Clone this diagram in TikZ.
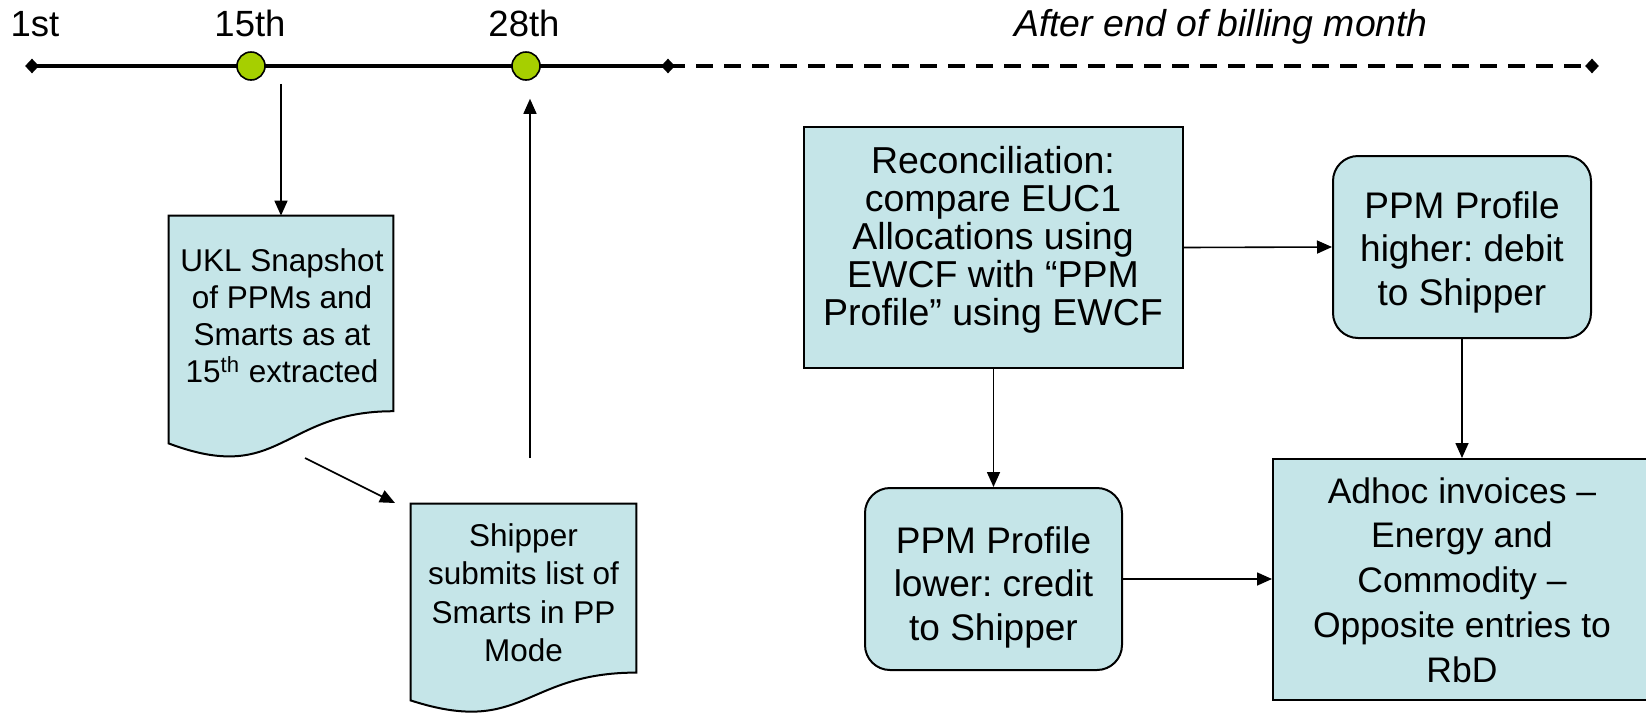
\documentclass[tikz,border=0pt]{standalone}
\usepackage{fontspec}
\setmainfont{Liberation Sans}
\usetikzlibrary{arrows.meta,shapes.geometric,calc}
\definecolor{boxfill}{RGB}{197,229,232}
\definecolor{dotgreen}{RGB}{166,207,0}
\frenchspacing
\newcommand\docoutline[1]{%
  \draw[docline] (#1.north west) -- (#1.north east)
    -- ($(#1.north east)!0.8587!(#1.south east)$)
    .. controls ($(#1.north)!0.8587!(#1.south)$) and ($(#1.north)!1.1858!(#1.south)$) .. (#1.south west)
    -- cycle;}
\newcommand\myrecfont{\fontsize{18.75pt}{19pt}\selectfont\lineskiplimit=-10pt\relax}
\begin{document}
\begin{tikzpicture}[x=0.5pt,y=-0.5pt,
  arr/.style={line width=0.8pt,-{Triangle[length=7.5pt,width=6.5pt]}},
  tl/.style={line width=1.75pt},
  dia/.style={diamond,fill=black,inner sep=0pt,minimum width=7pt,minimum height=7.5pt},
  dot/.style={circle,draw=black,line width=0.8pt,fill=dotgreen,inner sep=0pt,minimum size=14pt},
  sqbox/.style={draw=black,line width=1pt,fill=boxfill,inner sep=0pt},
  rbox/.style={sqbox,rounded corners=12.5pt},
  docarea/.style={inner sep=0pt},
  docline/.style={draw=black,line width=1pt,fill=boxfill},
  lbl/.style={font=\fontsize{18.25pt}{21pt}\selectfont,anchor=base,inner sep=0pt},
  doctxt/.style={font=\fontsize{15.75pt}{18.5pt}\selectfont,align=center,inner sep=0pt},
  doctxtb/.style={font=\fontsize{15.75pt}{19.25pt}\selectfont,align=center,inner sep=0pt},
  rectxt/.style={font=\myrecfont,align=center,inner sep=0pt},
  ppmtxt/.style={font=\fontsize{18.5pt}{21.75pt}\selectfont,align=center,inner sep=0pt},
  adtxt/.style={font=\fontsize{17.75pt}{22.35pt}\selectfont,align=center,inner sep=0pt}
]
\clip (0,0) rectangle (1646,713);
\fill[white] (0,0) rectangle (1646,713);

% timeline labels
\node[lbl] (l1) at (35,36) {1st};
\node[lbl] (l15) at (250,36) {15th};
\node[lbl] (l28) at (524,36) {28th};
\node[lbl,font=\fontsize{18.7pt}{21pt}\selectfont\itshape] (lafter) at (1221,36) {After end of billing month};

% timeline
\node[dia] (d1) at (32,66) {};
\node[dia] (d2) at (668,66) {};
\node[dia] (d3) at (1592,66) {};
\draw[tl] (d1.center) -- (d2.center);
\draw[tl,dash pattern=on 8.3pt off 5.7pt] (d2.center) -- (d3.center);
\node[dot] (c15) at (251,66) {};
\node[dot] (c28) at (526,66) {};

% documents
\node[docarea,minimum width=112pt,minimum height=113.5pt] (doc1) at (281,329.5) {};
\docoutline{doc1}
\node[doctxt] (doc1t) at (282,316) {UKL Snapshot\\of PPMs and\\Smarts as at\\15\textsuperscript{th} extracted};

\node[docarea,minimum width=112.5pt,minimum height=98pt] (doc2) at (523.5,602) {};
\docoutline{doc2}
\node[doctxtb] (doc2t) at (523.5,592.5) {Shipper\\submits list of\\Smarts in PP\\Mode};

% boxes
\node[sqbox,minimum width=189.5pt,minimum height=120.5pt] (recon) at (993.5,247.5) {};
\node[rectxt] (recont) at (993,240) {Reconciliation:\\compare EUC1\\Allocations using\\EWCF with “PPM\\Profile” using EWCF};

\node[rbox,minimum width=129pt,minimum height=91pt] (ppmh) at (1462,247) {};
\node[ppmtxt] (ppmht) at (1462,252) {PPM Profile\\higher: debit\\to Shipper};

\node[rbox,minimum width=128.5pt,minimum height=91pt] (ppml) at (993.5,579) {};
\node[ppmtxt] (ppmlt) at (993.5,587) {PPM Profile\\lower: credit\\to Shipper};

\node[sqbox,minimum width=189pt,minimum height=120.5pt] (adhoc) at (1462,579.5) {};
\node[adtxt] (adhoct) at (1462,580) {Adhoc invoices –\\Energy and\\Commodity –\\Opposite entries to\\RbD};

% connectors
\draw[arr,shorten <=1.5pt] (doc1.north |- c15.south) -- (doc1.north);
\coordinate (s1) at (305,458);
\coordinate (e1) at (395,503);
\draw[arr] (s1) -- (e1);
\coordinate (s2) at (530,458);
\draw[arr,shorten >=9pt] (s2) -- (s2 |- c28.south);
\draw[arr] (recon.east) -- (ppmh.west);
\draw[arr] (recon.south) -- (ppml.north);
\draw[arr] (ppmh.south) -- (ppmh.south |- adhoc.north);
\draw[arr] (ppml.east) -- (ppml.east -| adhoc.west);
\end{tikzpicture}
\end{document}
